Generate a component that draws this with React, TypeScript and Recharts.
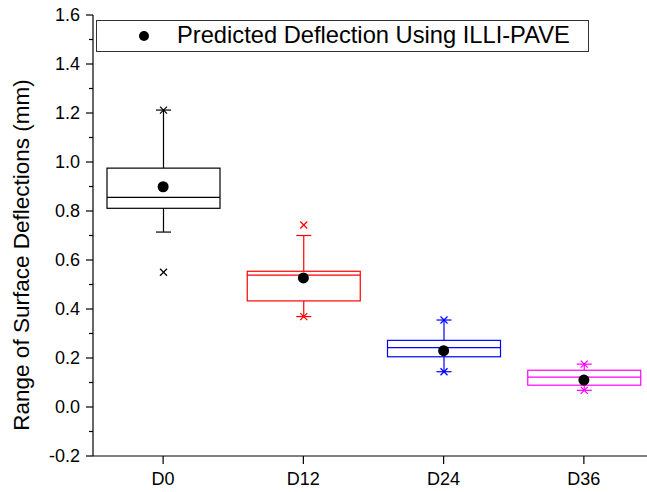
import React from "react";
import { ComposedChart, Bar, Scatter, XAxis, YAxis, Legend } from "recharts";

// values
const categories = ["D0", "D12", "D24", "D36"];
const whiskerLow = [0.714, 0.369, 0.144, 0.068];
const quartile1 = [0.811, 0.433, 0.205, 0.089];
const medians = [0.856, 0.538, 0.242, 0.122];
const quartile3 = [0.975, 0.554, 0.272, 0.15];
const whiskerHigh = [1.212, 0.7, 0.355, 0.175];
const minMarks = [0.55, 0.369, 0.144, 0.068];
const maxMarks = [1.212, 0.743, 0.355, 0.175];
const predicted = [0.899, 0.527, 0.23, 0.11];
const boxColors = ["#000000", "#ff0000", "#0000ff", "#ff00ff"];

const yTicks = [-0.2, -0.1, 0, 0.1, 0.2, 0.3, 0.4, 0.5, 0.6, 0.7, 0.8, 0.9, 1.0, 1.1, 1.2, 1.3, 1.4, 1.5, 1.6];
const yMajor = [-0.2, 0, 0.2, 0.4, 0.6, 0.8, 1.0, 1.2, 1.4, 1.6];

const LEGEND_NAME = "Predicted Deflection Using ILLI-PAVE";
const Y_TITLE = "Range of Surface Deflections (mm)";
const FONT = "'Liberation Sans', Arial, sans-serif";

const data = categories.map((name, i) => ({
  name,
  range: [minMarks[i], maxMarks[i]],
  lo: whiskerLow[i],
  q1: quartile1[i],
  med: medians[i],
  q3: quartile3[i],
  hi: whiskerHigh[i],
  min: minMarks[i],
  max: maxMarks[i],
  mean: predicted[i],
  color: boxColors[i],
}));

function BoxShape(props: any) {
  const { x, y, width, height, payload } = props;
  if (!payload) return null;
  const top = Math.min(y, y + height);
  const bottom = Math.max(y, y + height);
  const a = payload.min;
  const b = payload.max;
  // pixel of a value, from the bar the library placed for [min, max]
  const py = (v: number) => bottom - ((v - a) / (b - a)) * (bottom - top);
  const cx = x + width / 2;
  const c = payload.color;
  const sw = 1.2;
  const cap = 7.5;
  const cross = (v: number, k: string) => {
    const yy = py(v);
    const s = 3.5;
    return (
      <g key={k}>
        <line x1={cx - s} x2={cx + s} y1={yy - s} y2={yy + s} stroke={c} strokeWidth={sw} />
        <line x1={cx - s} x2={cx + s} y1={yy + s} y2={yy - s} stroke={c} strokeWidth={sw} />
      </g>
    );
  };
  return (
    <g>
      <line x1={cx} x2={cx} y1={py(payload.hi)} y2={py(payload.q3)} stroke={c} strokeWidth={sw} />
      <line x1={cx} x2={cx} y1={py(payload.q1)} y2={py(payload.lo)} stroke={c} strokeWidth={sw} />
      <line x1={cx - cap} x2={cx + cap} y1={py(payload.hi)} y2={py(payload.hi)} stroke={c} strokeWidth={sw} />
      <line x1={cx - cap} x2={cx + cap} y1={py(payload.lo)} y2={py(payload.lo)} stroke={c} strokeWidth={sw} />
      <rect
        x={x}
        y={py(payload.q3)}
        width={width}
        height={py(payload.q1) - py(payload.q3)}
        fill="none"
        stroke={c}
        strokeWidth={sw}
      />
      <line x1={x} x2={x + width} y1={py(payload.med)} y2={py(payload.med)} stroke={c} strokeWidth={sw} />
      {cross(payload.min, "mn")}
      {cross(payload.max, "mx")}
    </g>
  );
}

function LeftTick(props: any) {
  const { x, y, payload } = props;
  const major = yMajor.includes(payload.value);
  return (
    <g>
      <line x1={x - (major ? 7 : 4)} x2={x} y1={y} y2={y} stroke="#000" strokeWidth={1.2} />
      {major && (
        <text x={x - 13} y={y} dy="0.35em" textAnchor="end" fontSize={18} fill="#000" fontFamily={FONT}>
          {payload.value.toFixed(1)}
        </text>
      )}
    </g>
  );
}

// inward ticks of the right frame
function RightTick(props: any) {
  const { x, y } = props;
  return <line x1={x - 8} x2={x} y1={y} y2={y} stroke="#000" strokeWidth={1.2} />;
}

function YTitle() {
  return (
    <text
      x={29}
      y={255}
      transform="rotate(-90 29 255)"
      textAnchor="middle"
      fontSize={22.5}
      fill="#000"
      fontFamily={FONT}
    >
      {Y_TITLE}
    </text>
  );
}

function LegendBox() {
  return (
    <div
      style={{
        boxSizing: "border-box",
        width: 493,
        height: 32,
        border: "1px solid #333",
        background: "#fff",
        display: "flex",
        alignItems: "center",
        fontFamily: FONT,
        fontSize: 23.7,
        color: "#000",
      }}
    >
      <svg width={80} height={30} style={{ flex: "none" }}>
        <circle cx={47} cy={15} r={5} fill="#000" />
      </svg>
      <span style={{ lineHeight: 1 }}>{LEGEND_NAME}</span>
    </div>
  );
}

export default function App() {
  return (
    <div
      style={{
        position: "fixed",
        left: 0,
        top: 0,
        width: 647,
        height: 492,
        overflow: "hidden",
        background: "#fff",
        fontFamily: FONT,
      }}
    >
      <ComposedChart width={660} height={492} data={data} margin={{ top: 15, right: 0, bottom: 0, left: 0 }}>
        <XAxis
          dataKey="name"
          height={36}
          stroke="#000"
          strokeWidth={1.2}
          tickSize={8}
          tickMargin={8}
          tick={{ fontSize: 18, fill: "#000" }}
        />
        <XAxis
          xAxisId="top"
          dataKey="name"
          orientation="top"
          mirror
          height={0}
          stroke="#000"
          strokeWidth={1.2}
          tickSize={5}
          tickFormatter={() => ""}
        />
        <YAxis
          type="number"
          domain={[-0.2, 1.6]}
          ticks={yTicks}
          interval={0}
          width={93}
          stroke="#000"
          strokeWidth={1.2}
          tickLine={false}
          tickSize={0}
          tickMargin={0}
          tick={<LeftTick />}
          label={{ value: Y_TITLE, content: () => <YTitle /> }}
        />
        <YAxis
          yAxisId="right"
          type="number"
          orientation="right"
          width={6}
          domain={[-0.2, 1.6]}
          ticks={yMajor}
          interval={0}
          axisLine={false}
          tickLine={false}
          tickSize={0}
          tickMargin={0}
          tick={<RightTick />}
        />
        <Legend
          layout="vertical"
          verticalAlign="middle"
          align="center"
          wrapperStyle={{ left: 96, top: 20, width: 493, height: 32 }}
          content={() => <LegendBox />}
        />
        <Bar dataKey="range" barSize={113} shape={<BoxShape />} isAnimationActive={false} legendType="none" />
        <Scatter
          dataKey="mean"
          name={LEGEND_NAME}
          fill="#000"
          isAnimationActive={false}
          shape={(p: any) => <circle cx={p.cx} cy={p.cy} r={5.5} fill="#000" />}
        />
      </ComposedChart>
    </div>
  );
}
